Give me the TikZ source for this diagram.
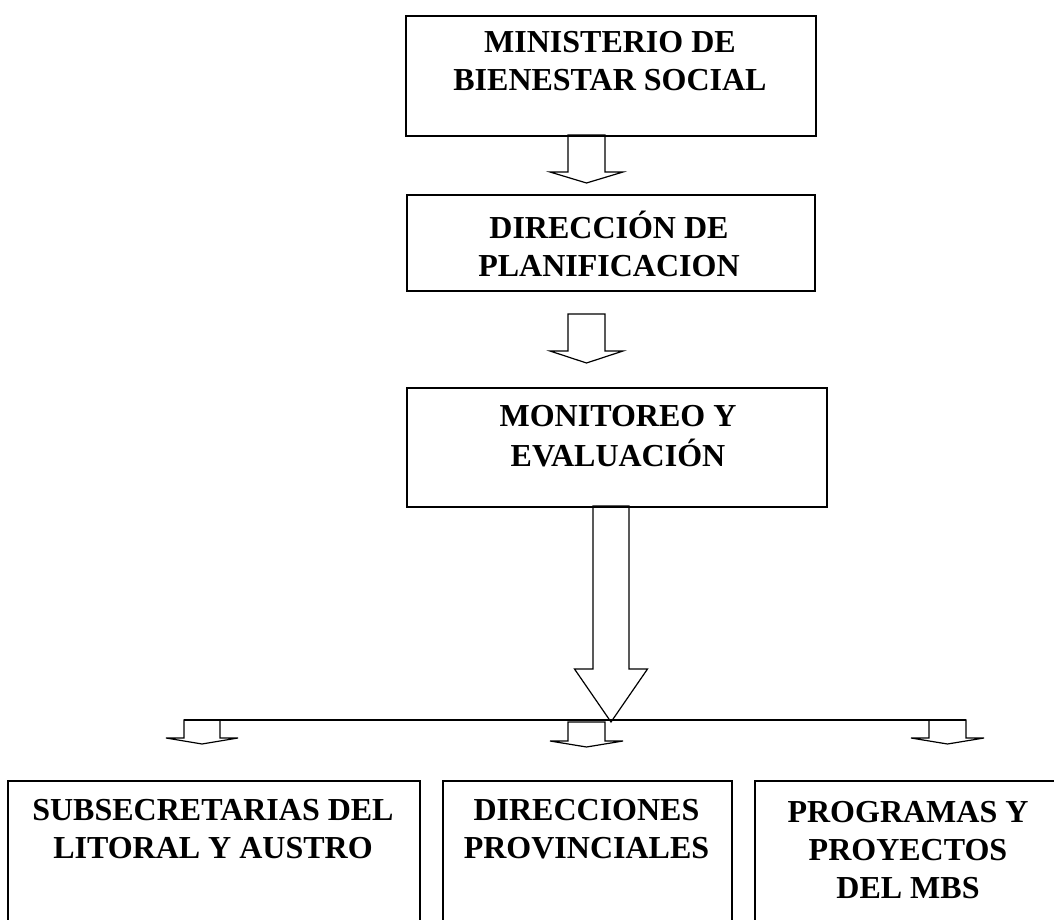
\documentclass[tikz,border=0pt]{standalone}
\usepackage{fontspec}
\setmainfont{Liberation Serif}
\tikzset{
  caja/.style={draw=black, line width=1.6pt, inner sep=0pt},
  texto/.style={align=center, inner sep=0pt, anchor=north, font=\fontsize{32}{38}\selectfont\bfseries},
  flecha/.style={draw=black, line width=1.2pt},
  pics/flechab/.style n args={4}{code={
    \draw[flecha] (-#1,0) -- (-#1,#3) -- (-#2,#3) -- (0,#4) -- (#2,#3) -- (#1,#3) -- (#1,0) -- cycle;
  }}
}
\begin{document}
\begin{tikzpicture}[x=1pt, y=-1pt]
\useasboundingbox (0,0) rectangle (1054,920);
\node[caja, anchor=north west, minimum width=410pt, minimum height=120pt] (min) at (405,15) {};
\node[caja, anchor=north west, minimum width=408pt, minimum height=96pt] (plan) at (406,194) {};
\node[caja, anchor=north west, minimum width=420pt, minimum height=119pt] (mon) at (406,387) {};
\node[caja, anchor=north west, minimum width=412pt, minimum height=160pt] (sub) at (7,780) {};
\node[caja, anchor=north west, minimum width=289pt, minimum height=160pt] (prov) at (442,780) {};
\node[caja, anchor=north west, minimum width=308pt, minimum height=160pt] (prog) at (754,780) {};
\node[texto] (tmin) at (610,25.4) {\strut MINISTERIO DE\\BIENESTAR SOCIAL};
\node[texto] (tplan) at (609,210.4) {\strut DIRECCIÓN DE\\PLANIFICACION};
\node[texto] (tmon) at (618,399.4) {\strut MONITOREO Y\\EVALUACIÓN};
\node[texto] (tsub) at (213,793.4) {\strut SUBSECRETARIAS DEL\\LITORAL Y AUSTRO};
\node[texto] (tprov) at (586.5,793.4) {\strut DIRECCIONES\\PROVINCIALES};
\node[texto] (tprog) at (908,795.4) {\strut PROGRAMAS Y\\PROYECTOS\\DEL MBS};
\coordinate (f1) at (586.5,135);
\coordinate (f2) at (586.5,314);
\coordinate (f3) at (611,506);
\coordinate (izq) at (202,720);
\coordinate (cen) at (586.5,722);
\coordinate (der) at (947.5,720);
\pic at (f1) {flechab={18.5}{36.5}{37}{48}};
\pic at (f2) {flechab={18.5}{36.5}{37}{49}};
\pic at (f3) {flechab={18}{36.5}{163}{216}};
\draw[flecha] ([xshift=-18pt]izq) -- ([xshift=18.5pt]der);
\pic at (izq) {flechab={18}{36}{18}{24}};
\pic at (cen) {flechab={18.5}{36.5}{19}{25}};
\pic at (der) {flechab={18.5}{36.5}{18}{24}};
\end{tikzpicture}
\end{document}
